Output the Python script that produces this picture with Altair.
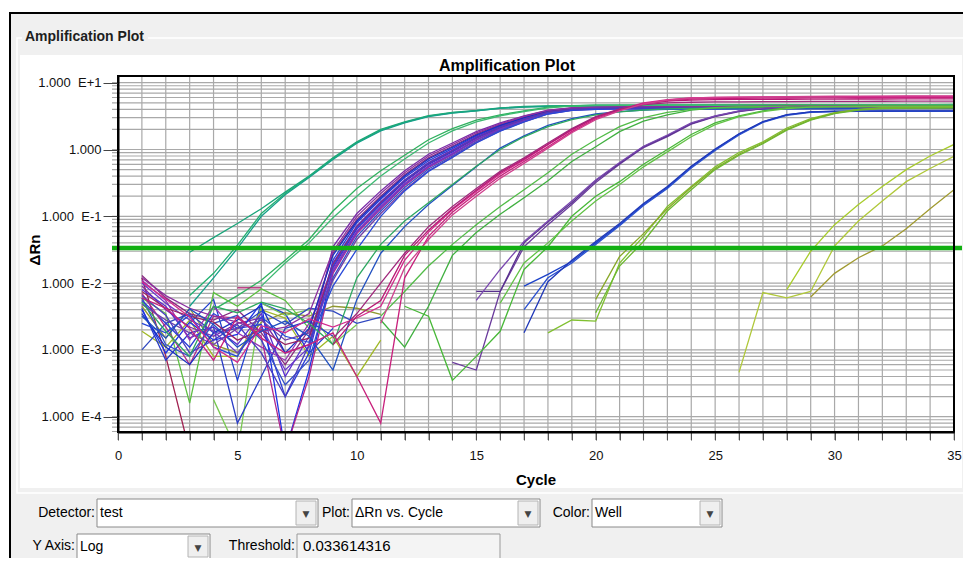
import altair as alt
import pandas as pd

N = None
FONT = "Liberation Sans"
cycles = list(range(1, 36))

# ---------------- wells: delta Rn for cycles 1..35 (None = not drawn) ----------------
# early teal / green wells
a1 = [N, N, 0.029, 0.048, 0.078, 0.13, 0.23, 0.40] + [0.75, 1.30, 2.0, 2.6, 3.2, 3.6, 3.85, 4.2, 4.4, 4.5, 4.55, 4.6] + [4.6, 4.62, 4.62, 4.63, 4.64, 4.64, 4.65, 4.65, 4.66, 4.66, 4.67, 4.67, 4.68, 4.68, 4.7]
a2 = [N, N, 0.0065, 0.014, 0.037, 0.11, 0.22, 0.39] + [0.73, 1.27, 1.95, 2.55, 3.15, 3.55, 3.8, 4.15, 4.35, 4.45, 4.5, 4.52] + [4.53, 4.54, 4.55, 4.55, 4.56, 4.57, 4.57, 4.58, 4.58, 4.59, 4.6, 4.6, 4.61, 4.61, 4.62]
a3 = [N, N, 0.0045, 0.012, 0.033, 0.10, 0.21, 0.38] + [0.71, 1.24, 1.9, 2.5, 3.1, 3.5, 3.78, 4.12, 4.3, 4.4, 4.45, 4.48] + [4.5, 4.5, 4.51, 4.52, 4.52, 4.53, 4.54, 4.54, 4.55, 4.55, 4.56, 4.56, 4.57, 4.57, 4.58]
a4 = [N, N, N, 0.004, 0.0065, 0.011, 0.022, 0.045] + [0.12, 0.26, 0.48, 0.82, 1.4, 2.05, 2.75, 3.3, 3.8, 4.3, 4.5, 4.6] + [4.62, 4.63, 4.64, 4.65, 4.66, 4.66, 4.67, 4.68, 4.68, 4.69, 4.7, 4.7, 4.71, 4.71, 4.72]
a5 = [N, N, N, N, N, 0.009, 0.02, 0.04] + [0.095, 0.2, 0.4, 0.72, 1.25, 1.9, 2.6, 3.2, 3.7, 4.2, 4.45, 4.55] + [4.57, 4.58, 4.59, 4.6, 4.6, 4.61, 4.62, 4.62, 4.63, 4.64, 4.64, 4.65, 4.65, 4.66, 4.66]

# main purple / blue cluster
b1 = [0.009, 0.004, 0.0022, 0.0016, 0.0025, 0.003, 0.0009, 0.0012] + [0.035, 0.11, 0.24, 0.48, 0.85, 1.25, 1.85, 2.5, 3.2, 3.9, 4.2, 4.3] + [4.35, 4.36, 4.37, 4.38, 4.38, 4.39, 4.4, 4.4, 4.41, 4.42, 4.42, 4.43, 4.43, 4.44, 4.44]
b2 = [0.013, 0.006, 0.0035, 0.0028, 0.004, 0.0018, 0.0006, 0.002] + [0.028, 0.09, 0.2, 0.42, 0.75, 1.12, 1.7, 2.35, 3.05, 3.8, 4.15, 4.25] + [4.3, 4.31, 4.32, 4.33, 4.33, 4.34, 4.35, 4.35, 4.36, 4.36, 4.37, 4.37, 4.38, 4.38, 4.39]
b3 = [0.0055, 0.0025, 0.0011, 0.0035, 0.0021, 0.0024, 0.0002, 0.0009] + [0.022, 0.08, 0.18, 0.38, 0.68, 1.03, 1.6, 2.25, 2.95, 3.7, 4.1, 4.2] + [4.25, 4.26, 4.27, 4.27, 4.28, 4.29, 4.29, 4.3, 4.3, 4.31, 4.31, 4.32, 4.32, 4.33, 4.33]
b4 = [0.008, 0.0045, 0.0015, 0.0022, 0.0012, 0.0035, 0.0004, 0.0016] + [0.02, 0.072, 0.165, 0.35, 0.64, 0.98, 1.55, 2.2, 2.9, 3.65, 4.05, 4.15] + [4.2, 4.21, 4.22, 4.22, 4.23, 4.24, 4.24, 4.25, 4.25, 4.26, 4.26, 4.27, 4.27, 4.28, 4.28]
b5 = [0.004, 0.0009, 0.0026, 0.0014, 0.0017, 0.005, 0.00003, 0.0005] + [0.017, 0.065, 0.15, 0.33, 0.6, 0.92, 1.48, 2.12, 2.82, 3.6, 4.0, 4.1] + [4.15, 4.16, 4.17, 4.17, 4.18, 4.19, 4.19, 4.2, 4.2, 4.21, 4.21, 4.22, 4.22, 4.23, 4.23]
b6 = [0.011, 0.0055, 0.0014, 0.0045, 0.0018, 0.0011, 0.0007, 0.0025] + [0.016, 0.06, 0.14, 0.31, 0.57, 0.88, 1.42, 2.05, 2.75, 3.55, 3.95, 4.1] + [4.15, 4.17, 4.18, 4.19, 4.2, 4.21, 4.22, 4.22, 4.23, 4.24, 4.24, 4.25, 4.25, 4.26, 4.26]
b7 = [0.007, 0.0022, 0.0006, 0.0032, 0.003, 0.0016, 0.00003, 0.0004] + [0.014, 0.055, 0.13, 0.29, 0.54, 0.84, 1.38, 2.0, 2.7, 3.5, 3.95, 4.1] + [4.2, 4.25, 4.3, 4.34, 4.37, 4.4, 4.42, 4.44, 4.45, 4.46, 4.47, 4.48, 4.49, 4.5, 4.5]
b8 = [0.006, 0.0012, 0.0008, 0.0025, 0.0033, 0.0014, 0.0003, 0.0007] + [0.012, 0.05, 0.12, 0.27, 0.51, 0.8, 1.32, 1.95, 2.65, 3.45, 3.9, 4.05] + [4.1, 4.11, 4.12, 4.12, 4.13, 4.14, 4.14, 4.15, 4.15, 4.16, 4.16, 4.17, 4.17, 4.18, 4.18]
b9 = [0.0048, 0.0028, 0.0018, 0.0012, 0.0021, 0.0028, 0.0014, 0.0018] + [0.011, 0.045, 0.11, 0.25, 0.48, 0.77, 1.28, 1.9, 2.6, 3.4, 3.85, 4.0] + [4.05, 4.06, 4.07, 4.08, 4.08, 4.09, 4.1, 4.1, 4.11, 4.11, 4.12, 4.12, 4.13, 4.13, 4.14]
b10 = [0.0035, 0.0011, 0.0006, 0.0018, 0.0028, 0.0045, 0.0009, 0.0021] + [0.026, 0.085, 0.19, 0.4, 0.72, 1.08, 1.65, 2.3, 3.0, 3.75, 4.1, 4.2] + [4.25, 4.26, 4.27, 4.28, 4.28, 4.29, 4.3, 4.3, 4.31, 4.31, 4.32, 4.32, 4.33, 4.33, 4.34]
b11 = [0.01, 0.005, 0.0028, 0.0019, 0.0009, 0.0022, 0.0005, 0.0011] + [0.015, 0.058, 0.135, 0.3, 0.56, 0.86, 1.4, 2.03, 2.72, 3.52, 3.95, 4.1] + [4.15, 4.16, 4.17, 4.18, 4.19, 4.2, 4.2, 4.21, 4.22, 4.22, 4.23, 4.23, 4.24, 4.24, 4.25]
b12 = [0.0075, 0.0042, 0.0032, 0.0026, 0.0014, 0.002, 0.0012, 0.0015] + [0.019, 0.07, 0.16, 0.34, 0.62, 0.95, 1.5, 2.15, 2.85, 3.62, 4.02, 4.12] + [4.18, 4.2, 4.22, 4.24, 4.26, 4.28, 4.3, 4.31, 4.32, 4.33, 4.34, 4.35, 4.35, 4.36, 4.36]
b13 = [0.0025, 0.0018, 0.0033, 0.0011, 0.0008, 0.0031, 0.0016, 0.0013] + [0.009, 0.032, 0.1, 0.24, 0.47, 0.76, 1.25, 1.88, 2.58, 3.4, 3.85, 4.0] + [4.05, 4.06, 4.06, 4.07, 4.08, 4.08, 4.09, 4.09, 4.1, 4.1, 4.11, 4.11, 4.12, 4.12, 4.13]
b14 = [0.012, 0.0065, 0.0042, 0.0032, 0.0026, 0.0019, 0.0022, 0.0035] + [0.03, 0.1, 0.22, 0.45, 0.8, 1.18, 1.78, 2.42, 3.12, 3.85, 4.18, 4.28] + [4.32, 4.33, 4.34, 4.35, 4.36, 4.37, 4.38, 4.38, 4.39, 4.4, 4.4, 4.41, 4.41, 4.42, 4.42]
b15 = [0.0065, 0.0033, 0.0009, 0.0014, 0.0024, 0.0009, 0.0002, 0.0012] + [0.018, 0.068, 0.155, 0.34, 0.62, 0.94, 1.5, 2.15, 2.85, 3.6, 4.0, 4.12] + [4.18, 4.19, 4.2, 4.2, 4.21, 4.22, 4.22, 4.23, 4.23, 4.24, 4.24, 4.25, 4.25, 4.26, 4.26]

# blue / green wells just after the cluster
cb1 = [0.0032, 0.0015, 0.0041, 0.0024, 0.0011, 0.0019, 0.0027, 0.0016] + [0.0005, 0.0057, 0.028, 0.07, 0.15, 0.29, 0.55, 1.05, 1.6, 2.3, 2.9, 3.4] + [3.7, 3.9, 4.0, 4.02, 4.04, 4.05, 4.06, 4.07, 4.08, 4.08, 4.09, 4.1, 4.1, 4.11, 4.11]
cg2 = [0.0052, 0.0019, 0.0008, 0.0045, 0.0036, 0.0052, 0.0041, 0.0025] + [0.0012, 0.012, 0.038, 0.085, 0.16, 0.3, 0.56, 1.0, 1.55, 2.2, 2.8, 3.3] + [3.65, 3.9, 4.05, 4.12, 4.16, 4.2, 4.22, 4.24, 4.25, 4.26, 4.27, 4.28, 4.28, 4.29, 4.3]

# magenta wells
d1 = [0.006, 0.0042, 0.0021, 0.0007, 0.0032, 0.0015, 0.0009, 0.0012] + [0.0018, 0.0004, 0.00008, 0.012, 0.05, 0.115, 0.22, 0.40, 0.66, 1.1, 1.85, 2.9] + [3.9, 4.9, 5.4, 5.7, 5.8, 5.85, 5.88, 5.9, 5.92, 5.94, 5.95, 5.96, 5.97, 5.98, 6.0]
d2 = [0.0105, 0.0058, 0.0031, 0.0011, 0.00065, 0.0023, 0.0018, 0.0029] + [0.0022, 0.003, 0.0045, 0.022, 0.058, 0.125, 0.235, 0.43, 0.7, 1.18, 1.95, 3.0] + [4.0, 5.0, 5.6, 5.9, 6.0, 6.1, 6.12, 6.15, 6.18, 6.2, 6.2, 6.22, 6.22, 6.24, 6.25]
d3 = [N] * 8 + [0.0012, 0.0032, 0.0055, 0.026, 0.062, 0.13, 0.245, 0.45, 0.72, 1.2, 2.0, 3.05] + [4.0, 4.8, 5.3, 5.5, 5.6, 5.62, 5.64, 5.65, 5.66, 5.68, 5.7, 5.7, 5.72, 5.72, 5.74]
d4 = [N] * 8 + [0.0015, 0.0035, 0.01, 0.028, 0.07, 0.14, 0.26, 0.47, 0.75, 1.25, 2.05, 3.1] + [4.05, 4.7, 5.0, 5.1, 5.15, 5.18, 5.2, 5.22, 5.24, 5.25, 5.26, 5.28, 5.29, 5.3, 5.3]
d5 = [N] * 8 + [N, N, 0.0025, 0.017, 0.045, 0.105, 0.2, 0.37, 0.62, 1.05, 1.78, 2.8] + [3.8, 4.8, 5.5, 5.9, 6.0, 6.1, 6.15, 6.2, 6.25, 6.28, 6.3, 6.3, 6.32, 6.32, 6.34]

# green wells, Ct ~14
e1 = [N] * 8 + [N, N, 0.0028, 0.0011, 0.0045, 0.026, 0.057, 0.107, 0.19, 0.34, 0.66, 1.1] + [1.85, 2.65, 3.3, 3.9, 4.2, 4.3, 4.32, 4.34, 4.35, 4.36, 4.37, 4.38, 4.38, 4.39, 4.4]
e2 = [N] * 8 + [N, N, 0.0032, 0.0075, 0.018, 0.038, 0.075, 0.14, 0.25, 0.45, 0.85, 1.4] + [2.2, 3.0, 3.6, 4.0, 4.25, 4.35, 4.38, 4.4, 4.42, 4.43, 4.44, 4.45, 4.46, 4.46, 4.47]

# purple wells, Ct ~17
f1 = [N] * 8 + [N, N, N, N, N, 0.00065, 0.0005, 0.0075, 0.035, 0.075, 0.15, 0.32] + [0.6, 1.07, 1.56, 2.4, 3.1, 3.7, 4.1, 4.25, 4.3, 4.32, 4.34, 4.35, 4.36, 4.37, 4.38]
f2 = [N] * 8 + [N, N, N, N, N, N, 0.0075, 0.0075, 0.04, 0.082, 0.16, 0.34] + [0.62, 1.1, 1.6, 2.45, 3.15, 3.75, 4.1, 4.25, 4.3, 4.32, 4.33, 4.34, 4.35, 4.36, 4.37]
f3 = [N] * 8 + [N, N, N, N, N, N, 0.0055, 0.016, 0.042, 0.085, 0.17, 0.35] + [0.64, 1.12, 1.65, 2.5, 3.2, 3.8, 4.15, 4.28, 4.32, 4.34, 4.35, 4.36, 4.37, 4.38, 4.39]

# green wells, Ct ~18
g1 = [N] * 8 + [N, N, N, 0.0045, 0.0032, 0.00035, 0.0008, 0.0019, 0.016, 0.035, 0.1, 0.2] + [0.33, 0.6, 1.0, 1.68, 2.5, 3.2, 3.8, 4.25, 4.35, 4.38, 4.4, 4.42, 4.43, 4.44, 4.45]
g2 = [N] * 8 + [N, N, N, N, N, N, N, 0.005, 0.02, 0.04, 0.085, 0.17] + [0.3, 0.55, 0.92, 1.55, 2.35, 3.1, 3.7, 4.1, 4.3, 4.35, 4.38, 4.4, 4.41, 4.42, 4.43]

# blue wells, Ct ~20
h1 = [N] * 8 + [N, N, N, N, N, N, N, N, 0.009, 0.0135, 0.021, 0.04] + [0.075, 0.15, 0.27, 0.55, 1.0, 1.7, 2.6, 3.3, 3.65, 3.72, 3.74, 3.75, 3.75, 3.76, 3.76]
h2 = [N] * 8 + [N, N, N, N, N, N, N, N, 0.004, 0.012, 0.02, 0.038] + [0.072, 0.145, 0.26, 0.53, 0.97, 1.65, 2.55, 3.25, 3.6, 3.7, 3.72, 3.73, 3.74, 3.74, 3.75]
h3 = [N] * 8 + [N, N, N, N, N, N, N, N, 0.0018, 0.0105, 0.022, 0.042] + [0.078, 0.155, 0.28, 0.56, 1.02, 1.72, 2.62, 3.32, 3.66, 3.74, 3.76, 3.77, 3.78, 3.78, 3.79]

# yellow-green wells, Ct ~21.5
i1 = [N] * 8 + [N, N, N, N, N, N, N, N, N, 0.0018, 0.0028, 0.0027] + [0.02, 0.05, 0.14, 0.28, 0.55, 0.9, 1.3, 2.1, 2.9, 3.55, 4.0, 4.2, 4.25, 4.28, 4.3]
i2 = [N] * 8 + [N, N, N, N, N, N, N, N, N, N, N, 0.0057] + [0.025, 0.055, 0.13, 0.27, 0.52, 0.85, 1.25, 2.0, 2.8, 3.5, 3.95, 4.15, 4.2, 4.22, 4.25]
i3 = [N] * 8 + [N, N, N, N, N, N, N, N, N, N, N, 0.0036] + [0.018, 0.042, 0.12, 0.25, 0.5, 0.82, 1.22, 1.95, 2.75, 3.45, 3.9, 4.1, 4.15, 4.18, 4.2]

# late wells, Ct ~29-32
j1 = [N] * 8 + [N] * 12 + [N, N, N, N, N, N, N, 0.008, 0.03, 0.075, 0.15, 0.28, 0.5, 0.8, 1.19]
j2 = [N] * 8 + [N] * 12 + [N, N, N, N, N, 0.00046, 0.0072, 0.006, 0.0075, 0.036, 0.085, 0.17, 0.33, 0.52, 0.79]
j3 = [N] * 8 + [N] * 12 + [N, N, N, N, N, N, N, N, 0.0062, 0.014, 0.024, 0.036, 0.065, 0.13, 0.25]

# noise-only segments
n1 = [0.012, 0.0008, 0.00003, N, N, N, N, N] + [N] * 12 + [N] * 15
n2 = [N, N, N, N, 0.0085, 0.0085, N, N] + [N] * 12 + [N] * 15
n3 = [N, N, 0.0025, 0.0057, 0.00035, 0.005, 0.0035, 0.0009] + [0.0021] + [N] * 11 + [N] * 15
n4 = [0.006, 0.0035, 0.00016, 0.0072, 0.0045, 0.0082, 0.0055, 0.0021] + [N] * 12 + [N] * 15
n5 = [N, N, N, 0.00018, 0.00003, 0.005, 0.0033, 0.004] + [0.0012, 0.0024] + [N] * 10 + [N] * 15
n6 = [0.0019, 0.0011, 0.0028, 0.0008, 0.0008, 0.004, 0.003, 0.0008] + [0.0016, 0.0004, 0.0014] + [N] * 9 + [N] * 15
n7 = [0.0045, 0.0015, 0.0042, 0.0012, 0.0009, 0.0026, 0.0036, 0.0032] + [0.0045, 0.0042, 0.0034] + [N] * 9 + [N] * 15
n8 = [0.001, 0.0025, 0.0035, 0.0018, 0.0021, 0.0038, 0.0024, 0.0042] + [0.0038, 0.0025, 0.0031] + [N] * 9 + [N] * 15
n9 = [0.0042, 0.0007, 0.0018, 0.0022, 0.00008, 0.0004, 0.0021, 0.0027] + [0.0016] + [N] * 11 + [N] * 15

well_names = ["A1", "A2", "A3", "A4", "A5",
              "N1", "N2", "N3", "N4", "N5", "N6", "N7", "N8", "N9",
              "B1", "B2", "B3", "B4", "B5", "B6", "B7", "B8", "B9", "B10", "B11", "B12", "B13", "B14", "B15",
              "C1", "C2", "E1", "E2", "F1", "F2", "F3", "G1", "G2", "H1", "H2", "H3",
              "I1", "I2", "I3", "J1", "J2", "J3",
              "D1", "D2", "D3", "D4", "D5"]
well_values = [a1, a2, a3, a4, a5,
               n1, n2, n3, n4, n5, n6, n7, n8, n9,
               b1, b2, b3, b4, b5, b6, b7, b8, b9, b10, b11, b12, b13, b14, b15,
               cb1, cg2, e1, e2, f1, f2, f3, g1, g2, h1, h2, h3,
               i1, i2, i3, j1, j2, j3,
               d1, d2, d3, d4, d5]
well_colors = ["#1aa57a", "#22b070", "#17a08a", "#2fb15e", "#3dba72",
               "#a02050", "#b02070", "#2040d0", "#5cc040", "#78c850", "#a0b828", "#909830", "#3048c0", "#2a3cc8",
               "#7a2aa8", "#8a2a80", "#2a3ad8", "#5a2ed0", "#1c34e6", "#9632b4", "#b0288c", "#3550c8", "#7040a8",
               "#1830c0", "#6a38c8", "#982462", "#2848d8", "#8c30a0", "#4a3cc0",
               "#2050c0", "#2ea860", "#40b040", "#52bc48", "#6a3a9c", "#58308e", "#7a48b0", "#48b838", "#62c246",
               "#1a40c8", "#2a50d0", "#2038b8",
               "#80c030", "#88a828", "#6cb830", "#a8cc2c", "#b0c83a", "#a09a30",
               "#c8207c", "#d42a8c", "#b81874", "#a0287c", "#d0408e"]

threshold = [0.033614316]
x_grid = list(range(0, 36))
x_label_every = 5
y_major = [1e-4, 1e-3, 1e-2, 1e-1, 1.0, 10.0]
y_grid = [6e-5, 7e-5, 8e-5, 9e-5,
          1e-4, 2e-4, 3e-4, 4e-4, 5e-4, 6e-4, 7e-4, 8e-4, 9e-4,
          1e-3, 2e-3, 3e-3, 4e-3, 5e-3, 6e-3, 7e-3, 8e-3, 9e-3,
          1e-2, 2e-2, 3e-2, 4e-2, 5e-2, 6e-2, 7e-2, 8e-2, 9e-2,
          0.1, 0.2, 0.3, 0.4, 0.5, 0.6, 0.7, 0.8, 0.9,
          1, 2, 3, 4, 5, 6, 7, 8, 9, 10]

# ---------------- build the long table ----------------
rows = []
for name, vals in zip(well_names, well_values):
    seg = 0
    prev_none = True
    for c, v in zip(cycles, vals):
        if v is None:
            if not prev_none:
                seg += 1
            prev_none = True
            continue
        prev_none = False
        rows.append({"cycle": c, "val": v, "well": name, "seg": f"{name}_{seg}"})
curves = pd.DataFrame(rows)

# ---------------- geometry ----------------
W, H = 836, 356
OX, OY = 118, 76          # page position of the plot origin
GRID = "#a9a9a9"
dummy = pd.DataFrame({"k": [0]})

xscale = alt.Scale(domain=[0, 35], nice=False, zero=False)
yscale = alt.Scale(type="log", domain=[5.9e-5, 12.6], nice=False)
nb = "\u00a0"
ylab = ("datum.value > 5 ? '1.000" + nb + " E+1' : datum.value > 0.5 ? '1.000' : "
        "datum.value > 0.05 ? '1.000" + nb + " E-1' : datum.value > 0.005 ? '1.000" + nb + " E-2' : "
        "datum.value > 0.0005 ? '1.000" + nb + " E-3' : '1.000" + nb + " E-4'")
xaxis = alt.Axis(values=x_grid, labelExpr=f"datum.value % {x_label_every} == 0 ? datum.label : ''",
                 grid=False, tickSize=8, tickColor="#555555", tickWidth=1, labelPadding=9,
                 labelFontSize=13, labelFont=FONT, labelColor="#111111", labelFlush=False,
                 labelOverlap=False, domainColor="#000000", domainWidth=2, zindex=1)
yaxis = alt.Axis(values=y_major, labelExpr=ylab, grid=False, tickSize=15, tickColor="#444444",
                 tickWidth=1, labelPadding=2, labelFontSize=13, labelFont=FONT, labelColor="#111111",
                 labelFlush=False, labelOverlap=False, domainColor="#000000", domainWidth=2, zindex=1)
xenc = alt.X("cycle:Q", scale=xscale, axis=xaxis, title=None)
yenc = alt.Y("val:Q", scale=yscale, axis=yaxis, title=None)


def box(x1, y1, x2, y2, fill, stroke="transparent", sw=1.0, fo=1.0):
    return alt.Chart(dummy).mark_rect(fill=fill, fillOpacity=fo, stroke=stroke, strokeWidth=sw).encode(
        x=alt.value(x1 - OX), x2=alt.value(x2 - OX), y=alt.value(y1 - OY), y2=alt.value(y2 - OY))


def label(x, y, s, size=14, bold=False, align="left", color="#000000", angle=0, font=FONT):
    return alt.Chart(dummy).mark_text(text=s, align=align, baseline="middle", fontSize=size,
                                      fontWeight="bold" if bold else "normal", font=font,
                                      color=color, angle=angle).encode(
        x=alt.value(x - OX), y=alt.value(y - OY))


def combo(x1, y1, x2, y2, text, button=True):
    parts = [box(x1, y1, x2, y2, "#ffffff", "#8a8a8a", 1)]
    if button:
        parts.append(box(x2 - 22, y1 + 2, x2 - 2, y2 - 2, "#efefef", "#b4b4b4", 1))
        parts.append(label(x2 - 12, (y1 + y2) / 2 + 1, "\u25bc", size=9, align="center",
                           color="#444444", font="DejaVu Sans"))
    parts.append(label(x1 + 3, (y1 + y2) / 2, text))
    return parts


R1, R2 = 513, 546   # control row centres (page y)
layers = []
# window chrome
layers.append(box(10, 13, 990, 600, "#f0f0f0", "#000000", 2))
layers.append(box(17, 38, 966, 493, "#f0f0f0", "#ffffff", 1.5))
layers.append(box(20, 55, 962, 488, "#ffffff"))
layers.append(box(22, 28, 148, 47, "#f0f0f0"))
layers.append(label(25, 37, "Amplification Plot", size=14, bold=True, color="#1e1e1e"))
# controls row 1
layers.append(label(95, R1, "Detector:", align="right"))
layers += combo(97, R1 - 14, 318, R1 + 14, "test")
layers.append(label(350, R1, "Plot:", align="right"))
layers += combo(352, R1 - 14, 540, R1 + 14, "\u0394Rn vs. Cycle")
layers.append(label(590, R1, "Color:", align="right"))
layers += combo(592, R1 - 14, 722, R1 + 14, "Well")
# controls row 2
layers.append(label(75, R2, "Y Axis:", align="right"))
layers += combo(77, R2 - 12, 210, R2 + 13, "Log")
layers.append(label(295, R2, "Threshold:", align="right"))
layers.append(box(297, R2 - 12, 500, R2 + 13, "#f4f4f4", "#9a9a9a", 1))
layers.append(label(303, R2, "0.033614316", size=15))

# grid lines
layers.append(alt.Chart(pd.DataFrame({"cycle": x_grid})).mark_rule(color=GRID, strokeWidth=1.2).encode(
    x=xenc, y=alt.value(0), y2=alt.value(H + 8)))
layers.append(alt.Chart(pd.DataFrame({"val": y_grid})).mark_rule(color=GRID, strokeWidth=1.2).encode(
    y=yenc, x=alt.value(-6), x2=alt.value(W)))

# amplification curves
layers.append(alt.Chart(curves).mark_line(clip=True, strokeWidth=1.3).encode(
    x=xenc, y=yenc,
    color=alt.Color("well:N", scale=alt.Scale(domain=well_names, range=well_colors), legend=None),
    detail="seg:N", order=alt.Order("cycle:Q")))

# threshold
layers.append(alt.Chart(pd.DataFrame({"val": threshold})).mark_rule(color="#12b012", strokeWidth=4.5).encode(
    y=yenc, x=alt.value(-6), x2=alt.value(W + 8)))

# frame
layers.append(box(OX, OY, OX + W, OY + H, "#ffffff", "#000000", 2, fo=0.0))

# titles
layers.append(label(507, 66, "Amplification Plot", size=16, bold=True, align="center"))
layers.append(label(536, 480, "Cycle", size=15, bold=True, align="center"))
layers.append(label(35, 250, "\u0394Rn", size=15, bold=True, align="center", angle=270))

chart = alt.layer(*layers).properties(
    width=W, height=H,
    autosize=alt.AutoSizeParams(type="none"),
    padding={"left": OX - 8, "top": OY - 8, "right": 955 - (OX - 8) - W, "bottom": 550 - (OY - 8) - H},
).configure(background="#ffffff").configure_view(stroke="transparent")

chart.save("out.html", embed_options={"renderer": "svg", "actions": False})
